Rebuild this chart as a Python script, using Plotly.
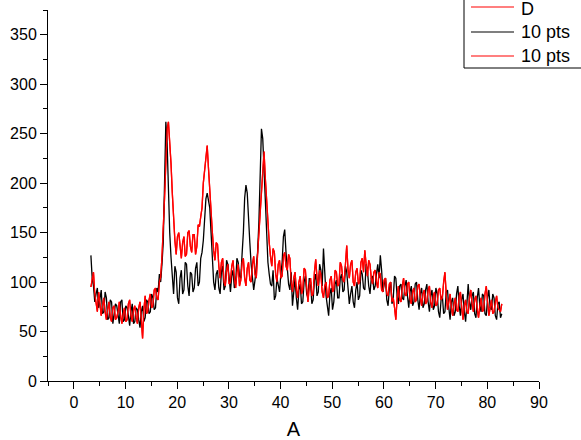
import plotly.graph_objects as go

# sample positions (A): step 0.25 from 3.3 to 82.8
x_start, x_step, n_pts = 3.3, 0.25, 319
A = [round(x_start + x_step * i, 2) for i in range(n_pts)]

black_10pts = [
    127, 104, 96, 80, 88, 94, 74, 86, 92, 68, 70, 90, 84, 62, 64, 82, 80, 58, 66, 78,
    76, 64, 58, 80, 82, 60, 62, 76, 74, 66, 56, 70, 78, 58, 60, 74, 72, 62, 54, 70,
    76, 60, 64, 82, 80, 68, 70, 88, 84, 72, 74, 94, 90, 108, 100, 118, 140, 200, 262, 240,
    190, 150, 125, 100, 88, 116, 110, 84, 78, 104, 112, 88, 92, 120, 118, 96, 86, 110, 108, 90,
    94, 114, 120, 96, 100, 124, 130, 142, 160, 184, 190, 182, 175, 150, 120, 100, 92, 108, 112, 94,
    88, 110, 116, 92, 96, 122, 118, 100, 90, 106, 112, 94, 98, 124, 120, 106, 104, 128, 150, 185,
    198, 190, 170, 140, 118, 100, 92, 102, 115, 130, 160, 220, 255, 245, 210, 170, 140, 120, 108, 98,
    96, 112, 82, 86, 104, 96, 90, 108, 120, 146, 153, 130, 110, 98, 92, 110, 76, 90, 104, 84,
    72, 92, 98, 78, 80, 100, 106, 88, 84, 104, 100, 78, 82, 102, 108, 86, 90, 118, 112, 96,
    134, 110, 86, 76, 66, 88, 94, 72, 80, 98, 102, 84, 84, 104, 108, 90, 92, 116, 110, 94,
    78, 88, 96, 80, 74, 92, 100, 82, 86, 112, 108, 94, 92, 118, 112, 96, 88, 104, 106, 92,
    96, 108, 118, 104, 127, 112, 90, 98, 104, 82, 76, 94, 100, 78, 84, 106, 104, 86, 78, 96,
    98, 84, 82, 96, 102, 86, 74, 90, 96, 76, 80, 98, 100, 82, 72, 88, 94, 74, 78, 92,
    98, 80, 70, 86, 92, 72, 76, 94, 88, 70, 64, 82, 86, 68, 70, 90, 92, 74, 62, 80,
    84, 66, 70, 88, 96, 76, 66, 82, 88, 70, 60, 78, 98, 80, 72, 86, 90, 68, 64, 84,
    94, 76, 70, 88, 86, 68, 66, 84, 92, 74, 72, 88, 84, 66, 62, 78, 80, 64, 68,
]

red_10pts = [
    95, 104, 110, 88, 78, 70, 90, 80, 66, 76, 84, 70, 62, 72, 80, 64, 60, 74, 76, 62,
    64, 70, 80, 66, 58, 68, 74, 60, 62, 78, 82, 66, 60, 72, 76, 64, 58, 74, 80, 62,
    43, 72, 86, 68, 70, 82, 88, 74, 76, 92, 94, 84, 82, 100, 105, 125, 150, 185, 220, 255,
    262, 245, 220, 190, 160, 142, 128, 146, 150, 132, 124, 140, 146, 126, 128, 150, 152, 136, 130, 148,
    148, 128, 136, 158, 156, 166, 175, 200, 215, 230, 238, 215, 190, 168, 150, 132, 122, 140, 138, 116,
    104, 120, 124, 100, 96, 112, 118, 98, 100, 116, 122, 104, 94, 110, 118, 96, 102, 120, 124, 104,
    96, 114, 120, 102, 100, 118, 126, 108, 104, 128, 150, 172, 190, 218, 232, 205, 180, 160, 140, 126,
    116, 134, 130, 108, 100, 118, 122, 104, 106, 126, 130, 116, 112, 128, 124, 100, 90, 104, 110, 92,
    84, 100, 106, 88, 92, 114, 112, 94, 80, 96, 104, 86, 88, 110, 123, 104, 96, 112, 108, 90,
    84, 96, 100, 84, 86, 102, 106, 90, 92, 112, 110, 96, 98, 120, 116, 102, 100, 118, 137, 112,
    104, 118, 122, 100, 96, 110, 114, 98, 100, 120, 124, 110, 132, 118, 106, 122, 118, 104, 98, 110,
    112, 100, 94, 110, 108, 92, 90, 102, 104, 88, 86, 98, 100, 80, 84, 74, 62, 84, 96, 82,
    80, 96, 104, 88, 86, 98, 100, 82, 78, 90, 94, 80, 82, 96, 98, 84, 76, 88, 92, 78,
    80, 92, 96, 80, 74, 86, 90, 76, 78, 92, 94, 82, 84, 100, 110, 88, 72, 80, 88, 74,
    66, 78, 84, 72, 70, 86, 90, 74, 62, 76, 82, 70, 68, 84, 92, 78, 70, 82, 86, 72,
    64, 76, 84, 70, 72, 88, 96, 80, 66, 74, 82, 68, 70, 80, 86, 74, 72, 70, 78,
]

D = red_10pts  # raw series, drawn underneath

legend_names = ["D", "10 pts", "10 pts"]
legend_colors = ["#ff0000", "#000000", "#ff0000"]

FONT = "Arial, Liberation Sans, sans-serif"
LW = 1.3

fig = go.Figure()
fig.add_trace(go.Scatter(x=A, y=D, mode="lines", name=legend_names[0],
                         line=dict(color=legend_colors[0], width=LW)))
fig.add_trace(go.Scatter(x=A, y=black_10pts, mode="lines", name=legend_names[1],
                         line=dict(color=legend_colors[1], width=LW)))
fig.add_trace(go.Scatter(x=A, y=red_10pts, mode="lines", name=legend_names[2],
                         line=dict(color=legend_colors[2], width=LW)))

# manual legend box (partly outside the figure, like the reference)
W, H = 581, 440
L, R, T, B = 48, 42, 10, 59
pw, ph = W - L - R, H - T - B
def px(xp): return (xp - L) / pw
def py(yp): return (H - B - yp) / ph

shapes = [dict(type="rect", xref="paper", yref="paper",
               x0=px(464), x1=px(620), y0=py(68), y1=py(-30),
               line=dict(color="black", width=1), fillcolor="white", layer="above")]
annotations = []
rows = [7, 32, 56]
text_rows = [9, 32, 56]
for name, col, ry, ty in zip(legend_names, legend_colors, rows, text_rows):
    shapes.append(dict(type="line", xref="paper", yref="paper",
                       x0=px(471), x1=px(514), y0=py(ry), y1=py(ry),
                       line=dict(color=col, width=1.2), layer="above"))
    annotations.append(dict(xref="paper", yref="paper", x=px(519), y=py(ty),
                            text=name, showarrow=False, xanchor="left", yanchor="middle",
                            font=dict(family=FONT, size=18, color="black")))

fig.update_layout(
    width=W, height=H,
    margin=dict(l=L, r=R, t=T, b=B, autoexpand=False),
    paper_bgcolor="white", plot_bgcolor="white",
    showlegend=False,
    shapes=shapes, annotations=annotations,
    font=dict(family=FONT, size=16, color="black"),
)
fig.update_xaxes(
    range=[-5, 90], dtick=10, tick0=0, showgrid=False, zeroline=False,
    showline=True, linecolor="black", linewidth=1,
    ticks="outside", ticklen=7, tickcolor="black", tickwidth=1,
    minor=dict(dtick=5, tick0=0, ticks="outside", ticklen=4, tickcolor="black", showgrid=False),
    tickfont=dict(family=FONT, size=16, color="black"),
    title=dict(text="A", font=dict(family=FONT, size=20, color="black"), standoff=12),
    automargin=False,
)
fig.update_yaxes(
    range=[0, 375], dtick=50, tick0=0, showgrid=False, zeroline=False,
    showline=True, linecolor="black", linewidth=1,
    ticks="outside", ticklen=7, tickcolor="black", tickwidth=1,
    minor=dict(dtick=25, tick0=0, ticks="outside", ticklen=4, tickcolor="black", showgrid=False),
    tickfont=dict(family=FONT, size=16, color="black"),
    automargin=False,
)

fig.write_html("out.html", config={"displayModeBar": False},
               post_script="document.body.style.margin='0';")
